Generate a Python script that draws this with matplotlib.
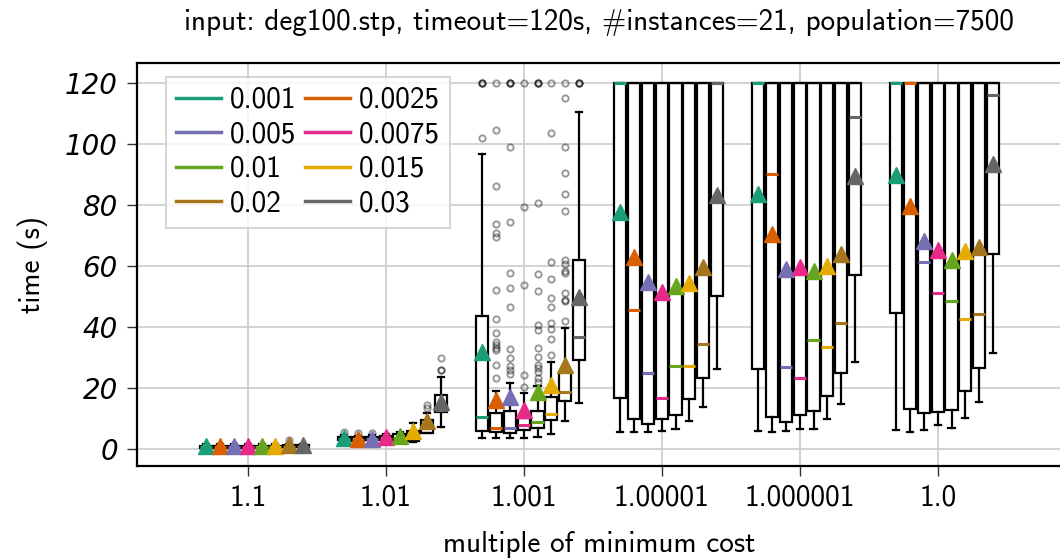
import matplotlib.pyplot as plt
from matplotlib.lines import Line2D
import numpy as np

plt.rcParams['font.family'] = ['cmss10', 'DejaVu Sans']
plt.rcParams['axes.unicode_minus'] = False
plt.rcParams['axes.formatter.use_mathtext'] = True

groups = ["1.1", "1.01", "1.001", "1.00001", "1.000001", "1.0"]
levels = ["0.001", "0.0025", "0.005", "0.0075", "0.01", "0.015", "0.02", "0.03"]
colors = ["#1b9e77", "#d95f02", "#7570b3", "#e7298a",
          "#66a61e", "#e6ab02", "#a6761d", "#666666"]
yticks = [0, 20, 40, 60, 80, 100, 120]

# rows = groups, columns = levels
mean = [[1.1, 1.1, 1.1, 1.1, 1.1, 1.1, 1.4, 1.3],
        [3.7, 3.3, 3.4, 3.9, 4.4, 6.0, 9.2, 15.5],
        [31.9, 16.1, 17.2, 12.8, 18.8, 21.0, 27.6, 50.0],
        [77.9, 63.1, 54.9, 51.4, 53.5, 54.6, 59.8, 83.4],
        [83.6, 70.6, 59.0, 59.8, 58.5, 60.2, 63.9, 89.6],
        [89.9, 79.9, 68.3, 65.3, 62.0, 65.0, 66.4, 93.5]]
q1 = [[0.4, 0.4, 0.4, 0.4, 0.4, 0.4, 0.5, 0.5],
      [2.8, 2.6, 2.9, 3.0, 3.0, 2.7, 5.2, 12.0],
      [6.0, 5.4, 5.2, 6.2, 7.0, 9.5, 15.8, 29.2],
      [16.6, 9.8, 8.2, 9.7, 11.2, 16.3, 23.2, 50.3],
      [26.3, 10.6, 8.7, 11.2, 12.3, 17.5, 24.8, 57.1],
      [44.5, 13.1, 11.7, 12.1, 12.8, 19.0, 26.7, 63.9]]
med = [[0.6, 0.6, 0.6, 0.6, 0.6, 0.6, 0.7, 0.7],
       [3.1, 2.9, 3.1, 3.3, 3.6, 4.0, 7.5, 12.8],
       [10.6, 7.0, 7.0, 7.9, 9.0, 11.5, 18.6, 36.9],
       [120, 45.6, 24.8, 16.6, 27.3, 27.3, 34.4, 120],
       [120, 90.3, 26.9, 23.4, 35.8, 33.6, 41.5, 108.8],
       [120, 120, 61.3, 51.1, 48.5, 42.7, 44.3, 116.3]]
q3 = [[1.0, 1.0, 1.0, 1.0, 1.0, 1.0, 1.2, 1.2],
      [4.0, 3.8, 4.0, 4.4, 4.8, 6.0, 9.5, 17.7],
      [43.8, 11.7, 12.5, 10.1, 12.6, 17.2, 25.4, 62.0],
      [120] * 8,
      [120] * 8,
      [120] * 8]
whislo = [[0.2] * 8,
          [2.4, 2.2, 2.4, 2.5, 2.6, 2.3, 5.1, 7.3],
          [3.7, 3.5, 3.7, 3.7, 4.0, 4.9, 9.2, 15.0],
          [5.7, 5.5, 5.7, 6.0, 6.5, 9.3, 13.6, 26.2],
          [5.9, 5.5, 5.9, 6.6, 6.6, 9.7, 14.8, 28.4],
          [6.2, 5.7, 6.2, 7.7, 6.9, 10.3, 15.3, 31.6]]
whishi = [[1.6] * 8,
          [4.6, 4.4, 4.6, 5.0, 5.6, 8.5, 11.8, 23.7],
          [96.7, 19.0, 21.8, 18.5, 20.5, 28.4, 39.6, 110.7],
          [120] * 8,
          [120] * 8,
          [120] * 8]
fliers = [
    [[], [], [], [], [], [], [3.0], []],
    [[5.7], [5.3], [5.3], [], [], [], [13.3, 14.4], [25.9, 25.9, 29.8]],
    [[102.0, 120, 120, 120],
     [23.2, 27.6, 32.6, 33.0, 34.1, 35.2, 38.0, 42.6, 52.2, 69.7, 70.8, 73.8, 86.3, 104.7, 120],
     [24.7, 26.0, 27.2, 30.0, 32.7, 46.5, 52.7, 57.7, 74.6, 99.0, 120, 120, 120],
     [20.4, 24.3, 53.8, 79.3, 120],
     [22.1, 23.2, 25.2, 26.6, 27.6, 30.3, 33.0, 39.0, 40.7, 52.0, 57.4, 80.8, 120, 120, 120],
     [30.8, 36.0, 39.3, 41.5, 46.5, 49.7, 55.8, 61.5, 103.6, 120],
     [42.1, 48.5, 49.0, 51.1, 57.6, 58.5, 60.7, 62.0, 78.1, 83.6, 90.7, 99.2, 115.3, 120],
     [120, 120, 120]],
    [[]] * 8,
    [[]] * 8,
    [[]] * 8,
]

fig = plt.figure(figsize=(10.6, 5.58), dpi=100)
ax = fig.add_axes([0.1288, 0.1649, 0.873, 0.7217])

x = np.arange(len(groups))
handles = []
for i, col in enumerate(colors):
    stats = []
    for g in range(len(groups)):
        stats.append(dict(mean=mean[g][i], q1=q1[g][i], med=med[g][i], q3=q3[g][i],
                          whislo=whislo[g][i], whishi=whishi[g][i], fliers=fliers[g][i]))
    ax.bxp(stats, positions=x + (i - 3) * 0.1, widths=0.088, showmeans=True,
           manage_ticks=False, patch_artist=True,
           boxprops=dict(facecolor='white', edgecolor='black', linewidth=1.6),
           whiskerprops=dict(color='black', linewidth=1.6),
           capprops=dict(color='black', linewidth=1.6),
           medianprops=dict(color=col, linewidth=2.2),
           meanprops=dict(marker='^', markerfacecolor=col, markeredgecolor=col,
                          markersize=11),
           flierprops=dict(marker='o', markerfacecolor='none', markeredgecolor='black',
                           markersize=4.5, markeredgewidth=1.4, alpha=0.4))
    handles.append(Line2D([], [], color=col, linewidth=2.5))

ax.set_xlim(-0.806, 5.9)
ax.set_ylim(-5.6, 126.6)
ax.set_xticks(x)
ax.set_xticklabels(groups, fontsize=21)
ax.set_yticks(yticks)
ax.set_yticklabels([str(v) for v in yticks], fontsize=20, family='DejaVu Sans',
                   style='italic')
ax.grid(True, color='#cccccc', linewidth=1.2)
ax.set_axisbelow(True)
for s in ax.spines.values():
    s.set_linewidth(1.6)
ax.tick_params(length=7.5, width=1, color='#333333')
ax.tick_params(axis='x', pad=6)
ax.tick_params(axis='y', pad=6)

ax.set_xlabel("multiple of minimum cost", fontsize=21, labelpad=14)
ax.set_ylabel("time (s)", fontsize=21, labelpad=12)
ax.set_title("input: deg100.stp, timeout=120s, #instances=21, population=7500",
             fontsize=21, pad=24)

# legend is filled row by row: reorder for matplotlib's column-major layout
order = [0, 2, 4, 6, 1, 3, 5, 7]
leg = ax.legend([handles[k] for k in order], [levels[k] for k in order], ncol=2,
                loc='upper left', fontsize=21, handlelength=1.55, columnspacing=0.3,
                labelspacing=0.26, handletextpad=0.3, borderpad=0.35,
                edgecolor='#cccccc', bbox_to_anchor=(0.0316, 0.967), borderaxespad=0,
                fancybox=False)
leg.get_frame().set_linewidth(1.5)

fig.savefig("out.png", dpi=100)
